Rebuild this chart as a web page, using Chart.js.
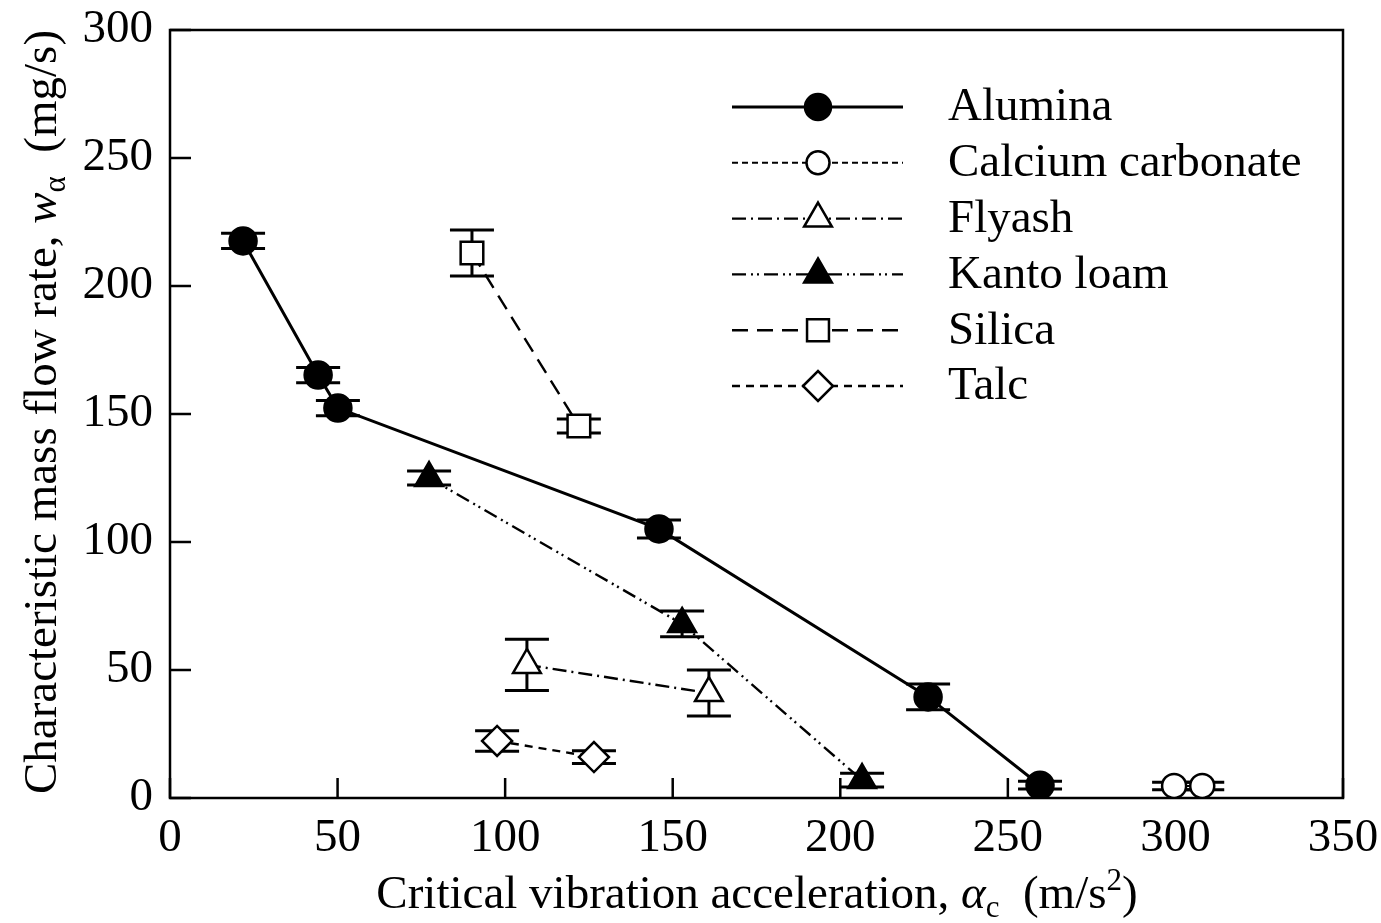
<!DOCTYPE html>
<html>
<head>
<meta charset="utf-8">
<script src="https://cdn.jsdelivr.net/npm/chart.js@4/dist/chart.umd.min.js"></script>
<style>
  body { margin: 0; background: #fff; }
  #wrap { width: 1381px; height: 923px; position: relative; }
</style>
</head>
<body>
<div id="wrap"><canvas id="chart"></canvas></div>
<script>
// ---- data ----
var seriesNames = ["Alumina", "Calcium carbonate", "Flyash", "Kanto loam", "Silica", "Talc"];

var aluminaX = [21.8, 44.2, 50.1, 145.9, 226.2, 259.6];
var aluminaY = [217.6, 165.2, 152.3, 105.1, 39.5, 5.0];
var aluminaErr = [3, 3, 3, 3.5, 5, 1.5];

var calciumX = [299.6, 308.0];
var calciumY = [4.7, 4.7];
var calciumErr = [1.5, 1.5];

var flyashX = [106.5, 160.8];
var flyashY = [52.0, 41.0];
var flyashErr = [10, 9];

var kantoX = [77.3, 152.8, 206.5];
var kantoY = [125.0, 68.0, 7.0];
var kantoErr = [2.7, 5, 2.7];

var silicaX = [90.1, 122.0];
var silicaY = [212.9, 145.3];
var silicaErr = [9, 2.7];

var talcX = [97.6, 126.5];
var talcY = [22.3, 16.0];
var talcErr = [4, 2.5];

var xTicks = [0, 50, 100, 150, 200, 250, 300, 350];
var yTicks = [0, 50, 100, 150, 200, 250, 300];

// ---- helpers ----
function pts(xs, ys) {
    return xs.map(function (x, i) { return { x: x, y: ys[i] }; });
}

var serif = "'Liberation Serif', 'Times New Roman', serif";
Chart.defaults.font.family = serif;
Chart.defaults.font.size = 47;
Chart.defaults.color = '#000';

var styles = [
    { style: 'circle',   r: 13.5, lr: 13, fill: '#000', dash: [], lw: 3 },
    { style: 'circle',   r: 12,   lr: 11.5, fill: '#fff', dash: [6, 4], lw: 2 },
    { style: 'triangle', r: 16,   lr: 16, fill: '#fff', dash: [14, 5, 2, 5], lw: 2.4 },
    { style: 'triangle', r: 16,   lr: 16, fill: '#000', dash: [14, 5, 2, 4, 2, 5], lw: 2.4 },
    { style: 'rect',     r: 16,   lr: 15.5, fill: '#fff', dash: [16, 9], lw: 2.4 },
    { style: 'rectRot',  r: 15,   lr: 15, fill: '#fff', dash: [8, 6], lw: 2.4 }
];

var allX = [aluminaX, calciumX, flyashX, kantoX, silicaX, talcX];
var allY = [aluminaY, calciumY, flyashY, kantoY, silicaY, talcY];
var allErr = [aluminaErr, calciumErr, flyashErr, kantoErr, silicaErr, talcErr];

var datasets = seriesNames.map(function (name, i) {
    var s = styles[i];
    return {
        label: name,
        data: pts(allX[i], allY[i]),
        errors: allErr[i],
        legendRadius: s.lr,
        showLine: true,
        borderColor: '#000',
        borderWidth: s.lw,
        borderDash: s.dash,
        pointStyle: s.style,
        pointRadius: s.r,
        pointBackgroundColor: s.fill,
        pointBorderColor: '#000',
        pointBorderWidth: 2.5,
        tension: 0
    };
});

// frame, inward ticks and error bars, all under the markers
var underlay = {
    id: 'underlay',
    beforeDatasetsDraw: function (chart) {
        var ctx = chart.ctx, a = chart.chartArea, xs = chart.scales.x, ys = chart.scales.y;
        ctx.save();
        ctx.strokeStyle = '#000';
        ctx.setLineDash([]);
        ctx.lineWidth = 2.5;
        ctx.strokeRect(a.left, a.top, a.right - a.left, a.bottom - a.top);
        ctx.beginPath();
        xTicks.forEach(function (v) {
            var px = xs.getPixelForValue(v);
            ctx.moveTo(px, a.bottom); ctx.lineTo(px, a.bottom - 20);
        });
        yTicks.forEach(function (v) {
            var py = ys.getPixelForValue(v);
            ctx.moveTo(a.left, py); ctx.lineTo(a.left + 21, py);
        });
        ctx.stroke();

        ctx.lineWidth = 3;
        chart.data.datasets.forEach(function (ds) {
            ds.data.forEach(function (p, j) {
                var e = ds.errors[j];
                var px = xs.getPixelForValue(p.x);
                var top = ys.getPixelForValue(p.y + e);
                var bot = ys.getPixelForValue(p.y - e);
                ctx.beginPath();
                ctx.moveTo(px, top); ctx.lineTo(px, bot);
                ctx.moveTo(px - 22, top); ctx.lineTo(px + 22, top);
                ctx.moveTo(px - 22, bot); ctx.lineTo(px + 22, bot);
                ctx.stroke();
            });
        });
        ctx.restore();
    }
};

// legend and axis titles
var decorations = {
    id: 'decorations',
    afterDraw: function (chart) {
        var ctx = chart.ctx;
        ctx.save();
        ctx.strokeStyle = '#000';

        var ly = 107, step = 55.8;
        chart.data.datasets.forEach(function (ds, i) {
            var y = ly + i * step;
            ctx.lineWidth = ds.borderWidth;
            ctx.setLineDash(ds.borderDash);
            ctx.beginPath();
            ctx.moveTo(732, y); ctx.lineTo(903, y);
            ctx.stroke();
            ctx.setLineDash([]);
            ctx.fillStyle = ds.pointBackgroundColor;
            ctx.lineWidth = 2.5;
            Chart.helpers.drawPoint(ctx, {
                pointStyle: ds.pointStyle,
                radius: ds.legendRadius,
                rotation: 0,
                borderWidth: 2.5
            }, 818, y);
            ctx.fillStyle = '#000';
            ctx.font = '47px ' + serif;
            ctx.textBaseline = 'middle';
            ctx.textAlign = 'left';
            ctx.fillText(ds.label, 948, y + 1);
        });

        // x title
        ctx.fillStyle = '#000';
        ctx.textBaseline = 'alphabetic';
        ctx.textAlign = 'left';
        var xParts = [
            { t: 'Critical vibration acceleration, ', f: '47px ' + serif, dy: 0 },
            { t: '\u03b1', f: 'italic 47px ' + serif, dy: 0 },
            { t: 'c', f: '31px ' + serif, dy: 9 },
            { t: '  (m/s', f: '47px ' + serif, dy: 0 },
            { t: '2', f: '31px ' + serif, dy: -18 },
            { t: ')', f: '47px ' + serif, dy: 0 }
        ];
        drawParts(ctx, xParts, 757, 908);

        // y title
        ctx.translate(56, 412);
        ctx.rotate(-Math.PI / 2);
        var yParts = [
            { t: 'Characteristic mass flow rate, ', f: '47px ' + serif, dy: 0 },
            { t: 'w', f: 'italic 47px ' + serif, dy: 0 },
            { t: '\u03b1', f: '31px ' + serif, dy: 9 },
            { t: '  (mg/s)', f: '47px ' + serif, dy: 0 }
        ];
        drawParts(ctx, yParts, 0, 0);
        ctx.restore();
    }
};

function drawParts(ctx, parts, cx, baseY) {
    var total = 0;
    parts.forEach(function (p) { ctx.font = p.f; total += ctx.measureText(p.t).width; });
    var x = cx - total / 2;
    parts.forEach(function (p) {
        ctx.font = p.f;
        ctx.fillText(p.t, x, baseY + p.dy);
        x += ctx.measureText(p.t).width;
    });
}

new Chart(document.getElementById('chart'), {
    type: 'scatter',
    data: { datasets: datasets },
    options: {
        responsive: true,
        maintainAspectRatio: false,
        animation: false,
        layout: { padding: { left: 0, top: 30, right: 38, bottom: 0 } },
        plugins: { legend: { display: false }, tooltip: { enabled: false } },
        scales: {
            x: {
                type: 'linear', min: 0, max: 350,
                afterFit: function (s) {
                    s.height = 125;
                    s.paddingLeft = 0; s.paddingRight = 0;
                },
                afterBuildTicks: function (s) { s.ticks = xTicks.map(function (v) { return { value: v }; }); },
                grid: { display: false, drawTicks: false },
                border: { display: false },
                ticks: { padding: 12, maxRotation: 0, font: { size: 47 } }
            },
            y: {
                type: 'linear', min: 0, max: 300,
                afterFit: function (s) {
                    s.width = 170;
                    s.paddingTop = 0; s.paddingBottom = 0;
                },
                afterBuildTicks: function (s) { s.ticks = yTicks.map(function (v) { return { value: v }; }); },
                grid: { display: false, drawTicks: false },
                border: { display: false },
                ticks: { padding: 17, font: { size: 47 } }
            }
        }
    },
    plugins: [underlay, decorations]
});
</script>
</body>
</html>
